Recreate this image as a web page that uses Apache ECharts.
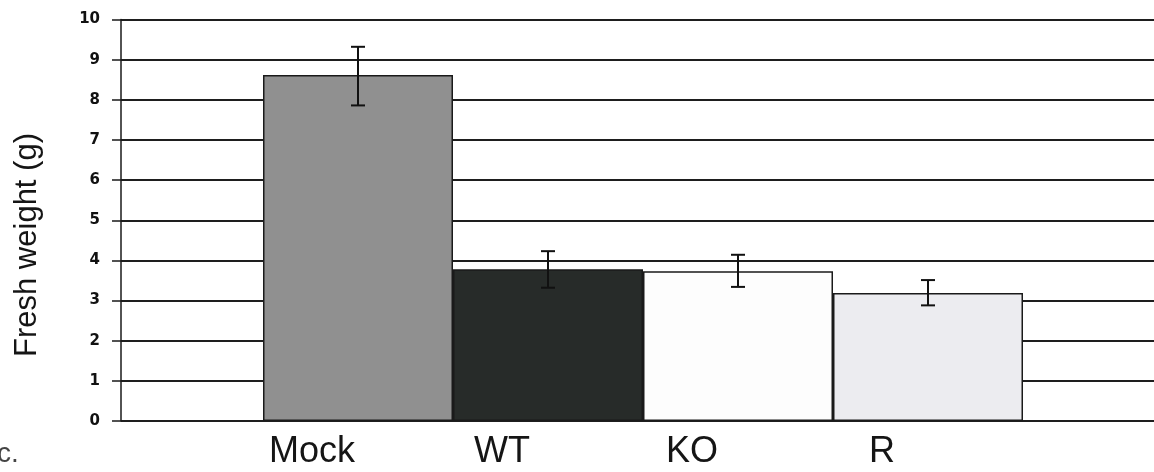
<!DOCTYPE html>
<html>
<head>
<meta charset="utf-8">
<script src="https://cdn.jsdelivr.net/npm/echarts@6/dist/echarts.min.js"></script>
<style>
  html, body { margin: 0; padding: 0; background: #ffffff; }
  #chart { width: 1154px; height: 472px; }
</style>
</head>
<body>
<div id="chart"></div>
<script>
// Fresh weight per treatment, with error range
const categories = ['Mock', 'WT', 'KO', 'R'];
const meanWeight = [8.62, 3.78, 3.73, 3.19];
const errLow = [7.86, 3.32, 3.34, 2.88];
const errHigh = [9.32, 4.23, 4.14, 3.51];
const yTicks = [0, 10, 1];
const barColors = ['#909090', '#272b29', '#fdfdfd', '#ececf0'];

const chart = echarts.init(document.getElementById('chart'));

const TOP = 19.5, BOTTOM = 51;

chart.setOption({
  animation: false,
  backgroundColor: '#ffffff',
  grid: [
    { left: 121, right: 0, top: TOP, bottom: BOTTOM, outerBoundsMode: 'none' },
    { left: 263, width: 760, top: TOP, bottom: BOTTOM, outerBoundsMode: 'none' }
  ],
  xAxis: [
    { gridIndex: 0, type: 'value', show: false, min: 0, max: 1 },
    {
      gridIndex: 1, type: 'category', data: categories,
      axisLine: { show: false }, axisTick: { show: false },
      axisLabel: {
        fontFamily: 'Liberation Sans, Arial, sans-serif',
        fontSize: 36, color: '#151515', margin: 13,
        padding: [0, 92, 0, 0]
      }
    }
  ],
  yAxis: [
    {
      gridIndex: 0, type: 'value', min: yTicks[0], max: yTicks[1], interval: yTicks[2],
      axisLine: { show: true, lineStyle: { color: '#1a1a1a', width: 1.5 } },
      axisTick: { show: true, inside: false, length: 9, lineStyle: { color: '#1a1a1a', width: 1.5 } },
      axisLabel: {
        fontFamily: 'DejaVu Sans, sans-serif', fontWeight: 'bold',
        fontSize: 15, color: '#111', margin: 21
      },
      splitLine: { show: true, lineStyle: { color: '#1e1e1e', width: 2 } }
    },
    { gridIndex: 1, type: 'value', min: yTicks[0], max: yTicks[1], show: false }
  ],
  graphic: [
    {
      type: 'text', x: 27, y: 245, rotation: Math.PI / 2,
      style: {
        text: 'Fresh weight (g)', font: '31px Liberation Sans, Arial, sans-serif',
        fill: '#151515', align: 'center', verticalAlign: 'middle'
      }
    },
    {
      type: 'text', left: -3, top: 440,
      style: { text: 'c.', font: '28px Liberation Sans, Arial, sans-serif', fill: '#444' }
    }
  ],
  series: [
    {
      type: 'bar', xAxisIndex: 1, yAxisIndex: 1,
      barCategoryGap: '0%',
      data: meanWeight.map((v, i) => ({
        value: v,
        itemStyle: { color: barColors[i] }
      })),
      itemStyle: { borderColor: '#1a1a1a', borderWidth: 1.5 },
      z: 3
    },
    {
      type: 'custom', xAxisIndex: 1, yAxisIndex: 1,
      data: categories.map((c, i) => [i, errLow[i], errHigh[i]]),
      renderItem: function (params, api) {
        const lo = api.coord([api.value(0), api.value(1)]);
        const hi = api.coord([api.value(0), api.value(2)]);
        const x = lo[0], half = 7;
        const style = { stroke: '#111', lineWidth: 2 };
        return {
          type: 'group',
          children: [
            { type: 'line', shape: { x1: x, y1: lo[1], x2: x, y2: hi[1] }, style: style },
            { type: 'line', shape: { x1: x - half, y1: lo[1], x2: x + half, y2: lo[1] }, style: style },
            { type: 'line', shape: { x1: x - half, y1: hi[1], x2: x + half, y2: hi[1] }, style: style }
          ]
        };
      },
      z: 5
    }
  ]
});
</script>
</body>
</html>
